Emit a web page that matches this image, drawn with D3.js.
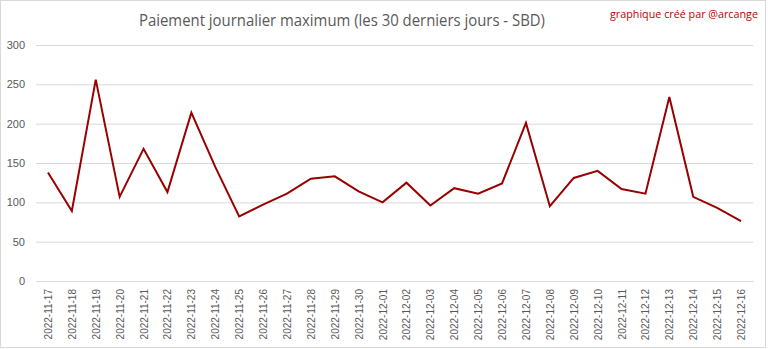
<!DOCTYPE html>
<html>
<head>
<meta charset="utf-8">
<script src="https://cdn.jsdelivr.net/npm/d3@7"></script>
<style>
  html, body { margin: 0; padding: 0; background: #fff; }
  svg { display: block; }
</style>
</head>
<body>
<svg id="chart" width="768" height="349"></svg>
<script>
// Daily maximum payout (SBD) over the last 30 days
const dates = [
  "2022-11-17","2022-11-18","2022-11-19","2022-11-20","2022-11-21","2022-11-22",
  "2022-11-23","2022-11-24","2022-11-25","2022-11-26","2022-11-27","2022-11-28",
  "2022-11-29","2022-11-30","2022-12-01","2022-12-02","2022-12-03","2022-12-04",
  "2022-12-05","2022-12-06","2022-12-07","2022-12-08","2022-12-09","2022-12-10",
  "2022-12-11","2022-12-12","2022-12-13","2022-12-14","2022-12-15","2022-12-16"
];
const maxPayout = [
  138, 89, 256, 107, 168, 113, 214, 145, 82, 97, 111, 130,
  133, 114, 100, 125, 96, 118, 111, 124, 201, 95, 131, 140,
  117, 111, 234, 107, 93, 76
];
const yTicks = [0, 50, 100, 150, 200, 250, 300];

const svg = d3.select("#chart");
const W = 768, H = 349;
const plot = { left: 36, right: 753, top: 45, bottom: 281 };

// Outer chart frame
svg.append("rect")
  .attr("x", 0.5).attr("y", 0.5)
  .attr("width", 765).attr("height", 347)
  .attr("fill", "#fff").attr("stroke", "#d9d9d9");

const x = d3.scaleBand().domain(dates).range([plot.left, plot.right]);
const y = d3.scaleLinear().domain([0, 300]).range([plot.bottom, plot.top]);

// Horizontal gridlines + y labels
const yAxis = d3.axisLeft(y).tickValues(yTicks).tickSize(-(plot.right - plot.left)).tickPadding(11);
const gy = svg.append("g").attr("transform", `translate(${plot.left},0)`).call(yAxis);
gy.select(".domain").remove();
gy.selectAll(".tick line").attr("stroke", "#d9d9d9").attr("stroke-width", 1);
gy.selectAll(".tick text")
  .attr("fill", "#595959")
  .style("font-family", "'Liberation Sans', Arial, sans-serif")
  .style("font-size", "11px");

// X axis with rotated date labels
const xAxis = d3.axisBottom(x).tickSize(0).tickPadding(0);
const gx = svg.append("g").attr("transform", `translate(0,${plot.bottom})`).call(xAxis);
gx.select(".domain").attr("stroke", "#d9d9d9");
gx.selectAll(".tick text")
  .attr("fill", "#595959")
  .style("font-family", "'Liberation Sans', Arial, sans-serif")
  .style("font-size", "10px")
  .attr("text-anchor", "end")
  .attr("dy", null)
  .attr("y", 0)
  .attr("transform", "translate(4,8) rotate(-90)");

// Series line
const line = d3.line()
  .x((d, i) => x(dates[i]) + x.bandwidth() / 2)
  .y(d => y(d));

svg.append("path")
  .datum(maxPayout)
  .attr("d", line)
  .attr("fill", "none")
  .attr("stroke", "#990000")
  .attr("stroke-width", 2)
  .attr("stroke-linejoin", "miter");

// Title
svg.append("text")
  .attr("x", 342).attr("y", 26)
  .attr("text-anchor", "middle")
  .attr("fill", "#595959")
  .style("font-family", "'Open Sans', 'Liberation Sans', sans-serif")
  .style("font-size", "16px")
  .attr("textLength", 406)
  .attr("lengthAdjust", "spacingAndGlyphs")
  .text("Paiement journalier maximum (les 30 derniers jours - SBD)");

// Credit
svg.append("text")
  .attr("x", 758).attr("y", 18)
  .attr("text-anchor", "end")
  .attr("fill", "#c00000")
  .style("font-family", "'Open Sans', 'Liberation Sans', sans-serif")
  .style("font-size", "11px")
  .attr("textLength", 148)
  .attr("lengthAdjust", "spacingAndGlyphs")
  .text("graphique créé par @arcange");
</script>
</body>
</html>
